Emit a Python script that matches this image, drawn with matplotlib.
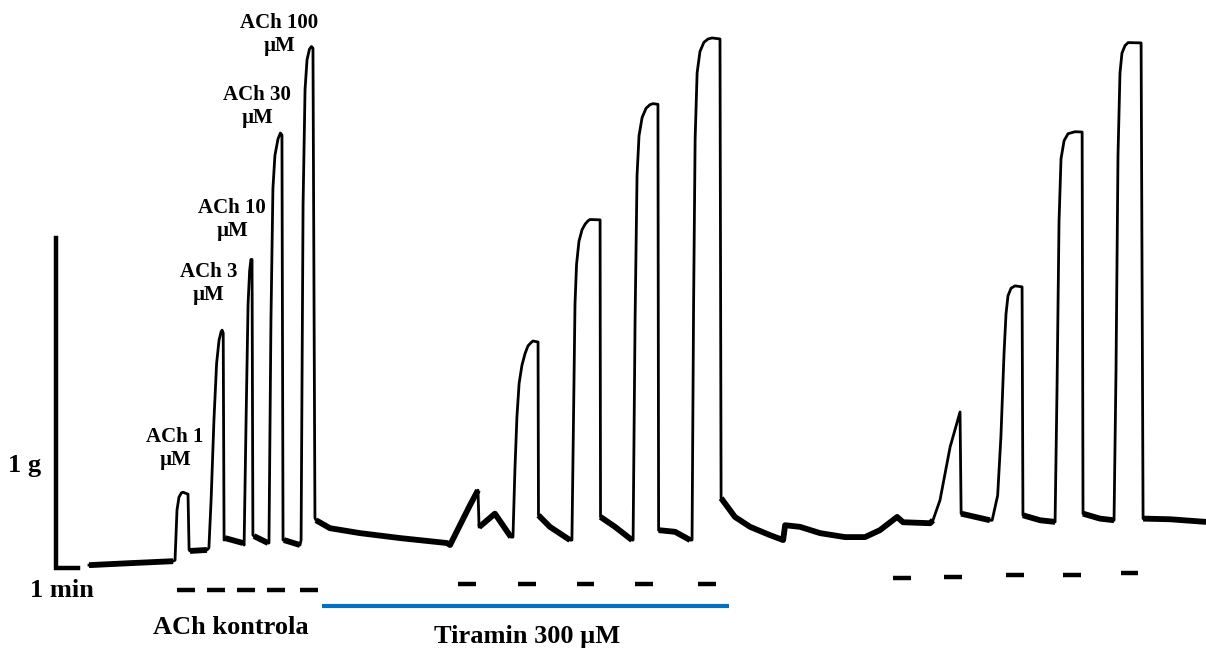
import numpy as np
import matplotlib
matplotlib.use("Agg")
import matplotlib.pyplot as plt

# Isometric tension trace (time in min, force in g)
trace_t = [1.50, 3.36, 5.32,
           5.41, 5.50, 5.59, 5.70, 5.77, 6.00, 6.05,
           6.09, 6.86,
           6.95, 7.05, 7.18, 7.30, 7.41, 7.50, 7.55, 7.60, 7.64,
           7.68, 8.50,
           8.55, 8.64, 8.73, 8.80, 8.86, 8.91, 8.95,
           9.00, 9.64,
           9.68, 9.77, 9.86, 9.95, 10.09, 10.20, 10.27, 10.32,
           10.36, 11.09,
           11.14, 11.23, 11.32, 11.41, 11.52, 11.61, 11.68, 11.77,
           11.82, 12.45, 13.82, 15.64, 17.77,
           17.91, 18.36, 18.82, 19.18, 19.23, 19.95, 20.68,
           20.77, 20.86, 20.95, 21.05, 21.18, 21.32, 21.45, 21.59, 21.68, 21.91,
           21.93, 22.45, 23.36,
           23.45, 23.52, 23.59, 23.66, 23.77, 23.91, 24.05, 24.18, 24.27, 24.73,
           24.75, 25.41, 26.18,
           26.23, 26.32, 26.41, 26.50, 26.64, 26.82, 27.00, 27.14, 27.36,
           27.39, 28.14, 28.82,
           28.91, 28.98, 29.05, 29.14, 29.27, 29.45, 29.64, 29.82, 30.18,
           30.23, 30.86, 31.55, 32.45, 33.05, 33.14, 33.82, 34.73, 35.86,
           36.77, 37.45, 38.23, 38.50, 39.73,
           39.86, 40.18, 40.64, 41.09,
           41.14, 42.45,
           42.55, 42.80, 42.95, 43.09, 43.18, 43.27, 43.41, 43.59, 43.91,
           43.95, 44.73, 45.41,
           45.50, 45.59, 45.68, 45.82, 46.00, 46.32, 46.64,
           46.68, 47.45, 48.09,
           48.18, 48.27, 48.36, 48.45, 48.59, 48.73, 49.32,
           49.41, 50.64, 52.27]
trace_g = [0.009, 0.015, 0.021,
           0.024, 0.176, 0.215, 0.228, 0.230, 0.224, 0.055,
           0.052, 0.055,
           0.061, 0.206, 0.450, 0.620, 0.690, 0.715, 0.721, 0.712, 0.085,
           0.091, 0.076,
           0.070, 0.450, 0.800, 0.900, 0.935, 0.935, 0.100,
           0.097, 0.076,
           0.076, 0.750, 1.150, 1.250, 1.300, 1.318, 1.312, 0.085,
           0.085, 0.070,
           0.085, 1.100, 1.450, 1.540, 1.572, 1.580, 1.575, 0.152,
           0.145, 0.121, 0.106, 0.091, 0.076,
           0.070, 0.130, 0.191, 0.236, 0.124, 0.165, 0.094,
           0.094, 0.300, 0.458, 0.560, 0.615, 0.650, 0.673, 0.683, 0.688, 0.685,
           0.160, 0.125, 0.085,
           0.085, 0.450, 0.800, 0.920, 0.990, 1.025, 1.042, 1.052, 1.056, 1.055,
           0.155, 0.125, 0.085,
           0.085, 0.750, 1.190, 1.310, 1.365, 1.393, 1.404, 1.407, 1.405,
           0.115, 0.110, 0.085,
           0.085, 0.800, 1.300, 1.500, 1.565, 1.593, 1.603, 1.606, 1.603,
           0.212, 0.155, 0.125, 0.100, 0.085, 0.130, 0.125, 0.106, 0.094,
           0.094, 0.115, 0.155, 0.139, 0.136,
           0.145, 0.206, 0.367, 0.473,
           0.165, 0.145,
           0.145, 0.220, 0.400, 0.650, 0.770, 0.825, 0.848, 0.855, 0.852,
           0.160, 0.145, 0.140,
           0.550, 1.050, 1.240, 1.295, 1.316, 1.322, 1.321,
           0.165, 0.150, 0.145,
           0.600, 1.250, 1.500, 1.560, 1.583, 1.592, 1.591,
           0.150, 0.148, 0.140]

# stretches where the baseline is noisy (drawn as a thicker band)
noisy = [(1.50, 5.32), (6.09, 6.86), (7.68, 8.50), (9.00, 9.64), (10.36, 11.09),
         (11.82, 19.18), (19.23, 20.68), (21.93, 23.36), (24.75, 26.18),
         (27.39, 28.82), (30.23, 39.86), (41.14, 42.45), (43.95, 45.41),
         (46.68, 48.09), (49.41, 52.27)]

# ACh application marks
ach_on = [5.50, 6.86, 8.23, 9.59, 11.09]
ach_off = [6.32, 7.68, 9.05, 10.41, 11.91]
ach_y = [-0.067] * 5
tir_on = [18.27, 21.00, 23.68, 26.32, 29.18]
tir_off = [19.09, 21.82, 24.45, 27.14, 30.00]
tir_y = [-0.048] * 5
rec_on = [38.05, 40.36, 43.18, 45.77, 48.41]
rec_off = [38.86, 41.18, 44.00, 46.59, 49.18]
rec_y = [-0.030, -0.027, -0.021, -0.021, -0.015]

labels = ["ACh 1\nµM", "ACh 3\nµM", "ACh 10\nµM", "ACh 30\nµM", "ACh 100\nµM"]
label_t = [5.41, 6.95, 8.00, 9.14, 10.14]
label_g = [0.361, 0.861, 1.055, 1.397, 1.615]

tiramin_span = (12.09, 30.59)

fig = plt.figure(figsize=(12.06, 6.49), dpi=100)
ax = fig.add_axes([0, 0, 1, 1])
ax.set_xlim(-2.545, 52.27)
ax.set_ylim(-0.245, 1.721)
ax.axis("off")

t = np.array(trace_t)
g = np.array(trace_g)
ax.plot(t, g, color="black", lw=2.0, solid_joinstyle="round")
for a, b in noisy:
    m = (t >= a) & (t <= b)
    ax.plot(t[m], g[m], color="black", lw=4.2, solid_joinstyle="round",
            solid_capstyle="butt")

# scale bars
ax.plot([0, 0, 1], [1, 0, 0], color="black", lw=3.2, solid_joinstyle="miter")
font = dict(family="Liberation Serif", weight="bold", color="black")
ax.text(-1.41, 0.312, "1 g", ha="center", va="center", fontsize=19, **font)
ax.text(0.27, -0.067, "1 min", ha="center", va="center", fontsize=19, **font)

for on, off, y in zip(ach_on + tir_on + rec_on, ach_off + tir_off + rec_off,
                      ach_y + tir_y + rec_y):
    ax.plot([on, off], [y, y], color="black", lw=3.2, solid_capstyle="butt")

ax.plot(tiramin_span, [-0.115, -0.115], color="#0070C0", lw=3, solid_capstyle="butt")

for s, x, y in zip(labels, label_t, label_g):
    ax.text(x, y, s, ha="center", va="center", fontsize=15, linespacing=1.2, **font)

ax.text(7.95, -0.179, "ACh kontrola", ha="center", va="center", fontsize=19, **font)
ax.text(21.41, -0.206, "Tiramin 300 µM", ha="center", va="center", fontsize=19, **font)

fig.savefig("out.png", dpi=100)
